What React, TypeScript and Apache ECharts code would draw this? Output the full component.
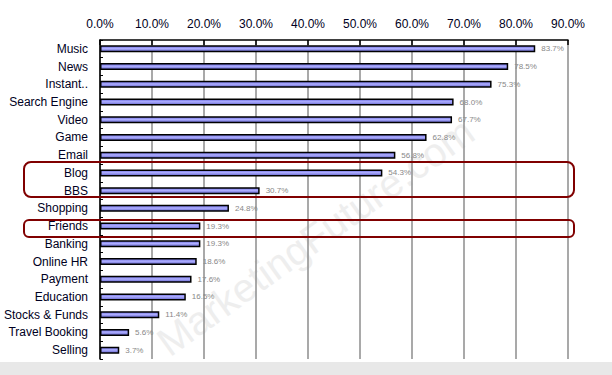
import React, { useEffect, useRef } from "react";
import * as echarts from "echarts";

const categories = [
  "Music", "News", "Instant..", "Search Engine", "Video", "Game", "Email", "Blog", "BBS",
  "Shopping", "Friends", "Banking", "Online HR", "Payment", "Education", "Stocks & Funds",
  "Travel Booking", "Selling",
];
const values = [83.7, 78.5, 75.3, 68.0, 67.7, 62.8, 56.8, 54.3, 30.7, 24.8, 19.3, 19.3, 18.6, 17.6, 16.5, 11.4, 5.6, 3.7];

const FONT = "Liberation Sans";

export default function App() {
  const ref = useRef<HTMLDivElement>(null);
  useEffect(() => {
    const chart = echarts.init(ref.current!, undefined, { renderer: "svg" });
    chart.setOption({
      animation: false,
      backgroundColor: "#ffffff",
      grid: { left: 100, right: 44, top: 40, bottom: 16 },
      xAxis: {
        type: "value",
        position: "top",
        min: 0,
        max: 90,
        interval: 10,
        axisLine: { show: true, lineStyle: { color: "#000", width: 1.5 } },
        axisTick: { show: true, inside: true, length: 5, lineStyle: { color: "#000", width: 1.5 } },
        axisLabel: {
          formatter: (v: number) => v.toFixed(1) + "%",
          color: "#000022",
          fontFamily: FONT,
          fontSize: 12,
          margin: 10,
        },
        splitLine: { show: true, lineStyle: { color: "#8c8c8c", width: 1.5 } },
      },
      yAxis: {
        type: "category",
        data: categories,
        inverse: true,
        axisLine: { show: true, lineStyle: { color: "#000", width: 1.5 } },
        axisTick: { show: true, inside: true, length: 3, lineStyle: { color: "#000" } },
        axisLabel: { color: "#000022", fontFamily: FONT, fontSize: 12, margin: 12 },
      },
      series: [
        {
          type: "bar",
          data: values,
          barWidth: 7,
          z: 3,
          itemStyle: {
            color: new echarts.graphic.LinearGradient(0, 0, 0, 1, [
              { offset: 0, color: "#6e6ee0" },
              { offset: 0.45, color: "#aeaeff" },
              { offset: 1, color: "#6464cc" },
            ]),
            borderColor: "#000",
            borderWidth: 1.5,
          },
          label: {
            show: true,
            position: "right",
            distance: 6,
            formatter: (p: any) => p.value.toFixed(1) + "%",
            color: "#888",
            fontFamily: FONT,
            fontSize: 8,
          },
        },
      ],
      graphic: [
        {
          type: "rect",
          left: 0,
          top: 362,
          z: -10,
          shape: { width: 612, height: 13 },
          style: { fill: "#e8e8e8" },
        },
        {
          type: "text",
          x: 150,
          y: 330,
          rotation: 0.62,
          z: -5,
          style: {
            text: "MarketingFuture.com",
            font: "40px " + FONT,
            fill: "#eeeeee",
          },
        },
        {
          type: "rect",
          z: 10,
          shape: { x: 24, y: 162, width: 550, height: 35, r: 7 },
          style: { fill: "none", stroke: "#800000", lineWidth: 2 },
        },
        {
          type: "rect",
          z: 10,
          shape: { x: 24, y: 220, width: 550, height: 17, r: 5 },
          style: { fill: "none", stroke: "#800000", lineWidth: 2 },
        },
      ],
    });
    return () => chart.dispose();
  }, []);
  return (
    <div
      ref={ref}
      style={{ position: "fixed", left: 0, top: 0, width: 612, height: 375 }}
    />
  );
}
